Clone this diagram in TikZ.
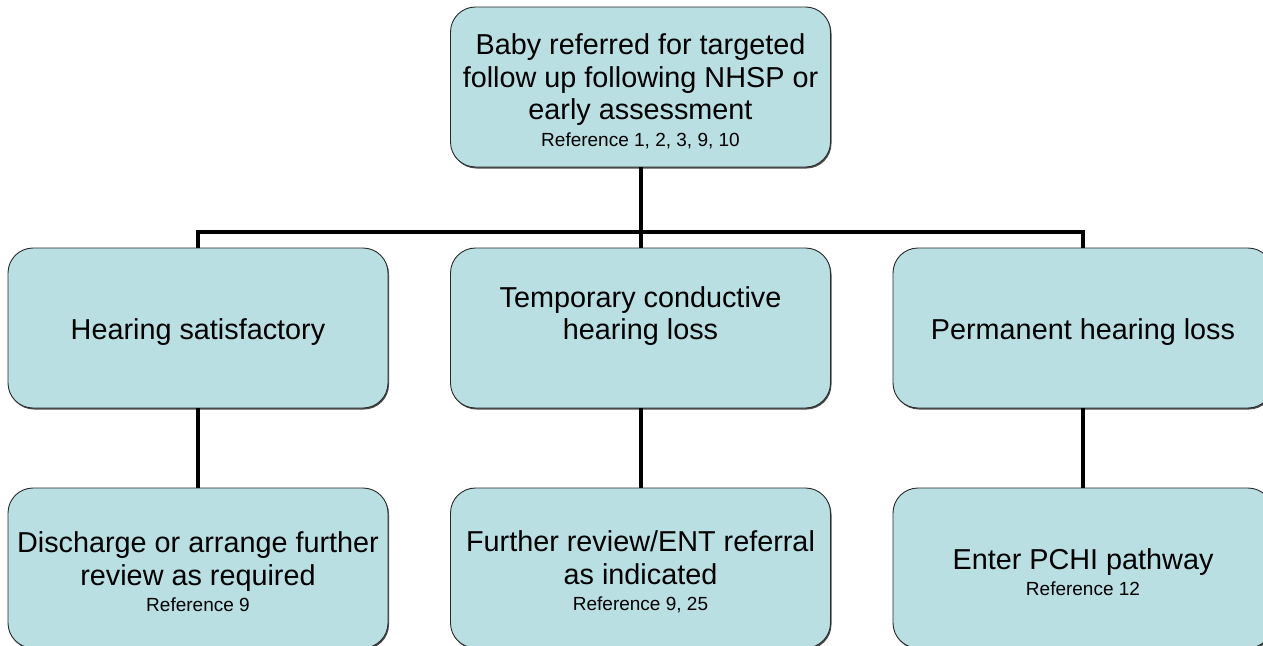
\documentclass[tikz,border=0pt]{standalone}
\usepackage{fontspec}
\setmainfont{Liberation Sans}
\usetikzlibrary{shadows}
\definecolor{boxfill}{RGB}{185,223,227}
\definecolor{boxline}{RGB}{40,40,40}
\newcommand{\mainsize}{\fontsize{28.8}{32.5}\selectfont}
\newcommand{\refsize}{\fontsize{19}{22}\selectfont}
% taller first line so the text block sits a little lower in its box
\newcommand{\firststrut}{\rule{0pt}{29pt}}
% an empty trailing line, lifting the text above the middle
\newcommand{\blankline}{\\\rule[-6pt]{0pt}{6pt}}
\begin{document}
\begin{tikzpicture}[x=1pt,y=-1pt,
  stagebox/.style={draw=boxline, line width=0.9pt, fill=boxfill,
    rounded corners=25pt, minimum width=380pt, minimum height=160pt,
    align=center, font=\mainsize, inner sep=0pt,
    drop shadow={shadow xshift=1pt, shadow yshift=-1.5pt, fill=black, opacity=0.7}},
  link/.style={line width=4pt, draw=black}]
  \useasboundingbox (0,0) rectangle (1263,645);

  % tree: one root, three outcomes, three follow-up actions
  \node[stagebox] (root) at (640.5,87)
    {\firststrut Baby referred for targeted\\follow up following NHSP or\\early assessment\\[-6pt]{\refsize Reference 1, 2, 3, 9, 10}};

  \node[stagebox] (sat) at (198,328) {\firststrut Hearing satisfactory};
  \node[stagebox] (tcl) at (640.5,328) {\firststrut Temporary conductive\\hearing loss\blankline};
  \node[stagebox] (phl) at (1083,328) {\firststrut Permanent hearing loss};

  \node[stagebox] (dis) at (198,568)
    {\firststrut Discharge or arrange further\\review as required\\[-6pt]{\refsize Reference 9}};
  \node[stagebox] (ent) at (640.5,568)
    {\firststrut Further review/ENT referral\\as indicated\\[-6pt]{\refsize Reference 9, 25}};
  \node[stagebox] (pchi) at (1083,568)
    {\firststrut Enter PCHI pathway\\[-6pt]{\refsize Reference 12}};

  % connectors
  \coordinate (bus) at (640.5,232);
  \draw[link] (root.south) -- (bus);
  \draw[link] (sat.north) |- (bus) -| (phl.north);
  \draw[link] (bus) -- (tcl.north);
  \draw[link] (sat.south) -- (dis.north);
  \draw[link] (tcl.south) -- (ent.north);
  \draw[link] (phl.south) -- (pchi.north);
\end{tikzpicture}
\end{document}
